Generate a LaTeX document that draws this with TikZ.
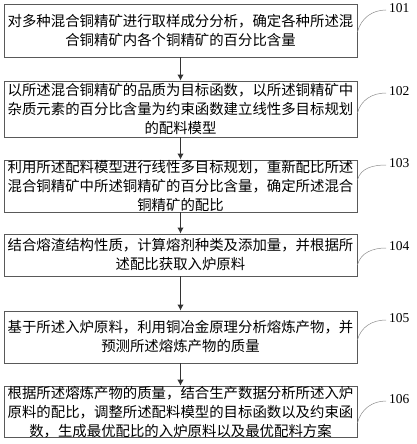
\documentclass[tikz,border=0pt]{standalone}
\usepackage{xcolor}
\usepackage{fontspec}
\setmainfont{Liberation Serif}
\newfontfamily\cjk{Noto Sans CJK SC}
\usetikzlibrary{arrows.meta}

\tikzset{
  stepbox/.style={draw=black!65, line width=0.8pt, inner xsep=1pt, inner ysep=0pt,
    text width=351pt, align=center, font=\cjk\fontsize{14.4}{19}\selectfont},
  numlabel/.style={anchor=west, inner sep=0pt, font=\fontsize{13.5}{14}\selectfont},
  flow/.style={draw=black!80, line width=1.2pt, -{Latex[length=6pt,width=6.5pt]}},
  lead/.style={draw=black!45, line width=0.5pt}
}

\begin{document}
\begin{tikzpicture}[x=1pt,y=-1pt]
                \useasboundingbox (0,0) rectangle (417,444);

                \node[stepbox, minimum height=53pt] (b1) at (180.5,30.5) {对多种混合铜精矿进行取样成分分析，确定各种所述混\\合铜精矿内各个铜精矿的百分比含量};
                \node[stepbox, minimum height=56pt] (b2) at (180.5,109) {以所述混合铜精矿的品质为目标函数，以所述铜精矿中\\杂质元素的百分比含量为约束函数建立线性多目标规划\\的配料模型};
                \node[stepbox, minimum height=52pt] (b3) at (180.5,186) {利用所述配料模型进行线性多目标规划，重新配比所述\\混合铜精矿中所述铜精矿的百分比含量，确定所述混合\\铜精矿的配比};
                \node[stepbox, minimum height=42pt] (b4) at (180.5,255) {结合熔渣结构性质，计算熔剂种类及添加量，并根据所\\述配比获取入炉原料};
                \node[stepbox, minimum height=52pt] (b5) at (180.5,337) {基于所述入炉原料，利用铜冶金原理分析熔炼产物，并\\预测所述熔炼产物的质量};
                \node[stepbox, minimum height=50pt] (b6) at (180.5,412) {根据所述熔炼产物的质量，结合生产数据分析所述入炉\\原料的配比，调整所述配料模型的目标函数以及约束函\\数，生成最优配比的入炉原料以及最优配料方案};

                \draw[flow] (b1) -- (b2);
                \draw[flow] (b2) -- (b3);
                \draw[flow] (b3) -- (b4);
                \draw[flow] (b4) -- (b5);
                \draw[flow] (b5) -- (b6);

                \node[numlabel] (l1) at (389,8) {101};
                \node[numlabel] (l2) at (389,91) {102};
                \node[numlabel] (l3) at (389,163) {103};
                \node[numlabel] (l4) at (389,246) {104};
                \node[numlabel] (l5) at (389,318) {105};
                \node[numlabel] (l6) at (389,399) {106};

                \draw[lead] ([yshift=-1.5pt]b1.east) to[out=75,in=180] ([xshift=-3pt,yshift=-2pt]l1.west);
                \draw[lead] ([yshift=-4pt]b2.east) to[out=75,in=180] ([xshift=-3pt,yshift=-2pt]l2.west);
                \draw[lead] ([yshift=6pt]b3.east) to[out=75,in=180] ([xshift=-3pt,yshift=-2pt]l3.west);
                \draw[lead] ([yshift=-10pt]b4.east) to[out=75,in=180] ([xshift=-3pt,yshift=-2pt]l4.west);
                \draw[lead] ([yshift=-3pt]b5.east) to[out=75,in=180] ([xshift=-3pt,yshift=-2pt]l5.west);
                \draw[lead] ([yshift=-11pt]b6.east) to[out=75,in=180] ([xshift=-3pt,yshift=-2pt]l6.west);
            \end{tikzpicture}
\end{document}
